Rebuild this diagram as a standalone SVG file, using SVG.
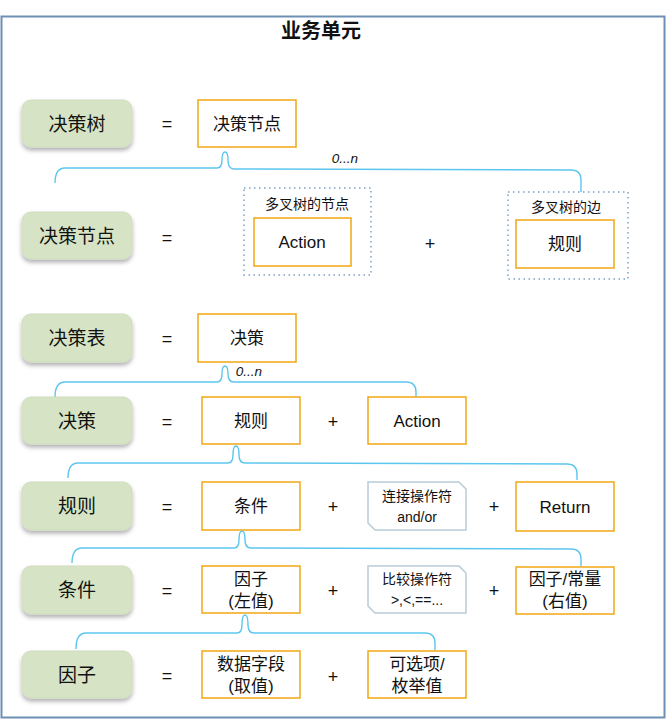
<svg xmlns="http://www.w3.org/2000/svg" width="667" height="720" viewBox="0 0 667 720">
<style>
text{font-family:"Liberation Sans","Noto Sans CJK SC",sans-serif;fill:#111;text-anchor:middle;dominant-baseline:central}
.g{fill:#d6e4c5;stroke:#cfdcc0;stroke-width:1}
.gt{font-size:19px}
.o{fill:#fff;stroke:#f2a714;stroke-width:1.5}
.ot{font-size:17px}
.op{font-size:18px}
.d{fill:none;stroke:#7d9fc2;stroke-width:1.5;stroke-dasharray:1.5 3.5}
.dt{font-size:14px}
.c{fill:#fff;stroke:#b8cbd8;stroke-width:1.5}
.ct{font-size:14px}
.br{fill:none;stroke:#5cc6ef;stroke-width:1.4}
.n{font-size:13.5px;font-style:italic}
</style>
<defs>
<filter id="sh" x="-20%" y="-20%" width="140%" height="150%">
<feDropShadow dx="0" dy="3" stdDeviation="2" flood-color="#000" flood-opacity="0.3"/>
</filter>
</defs>
<rect x="1.5" y="16.5" width="663" height="701" fill="#fff" stroke="#6d8fb3" stroke-width="2"/>
<text x="321" y="31" style="font-size:20px;font-weight:bold">业务单元</text>

<g id="connectors">
<path class="br" d="M55,183 Q55,168 65,168 L217,168 Q222,168 222,160 Q222,152 225,152 Q228,152 228,160 Q228,169 234,169 L571,170 Q581,170 581,180 L581,192"/>
<text class="n" x="345" y="158">0...n</text>
<path class="br" d="M55,397 Q55,382 65,382 L217,382 Q222,382 222,374 Q222,366 225,366 Q228,366 228,374 Q228,382 234,382 L406,382 Q416,382 416,392 L416,397"/>
<text class="n" x="249" y="371">0...n</text>
<path class="br" d="M68,478 Q68,463 78,463 L228,463 Q233,463 233,455 Q233,446 236,446 Q239,446 239,455 Q239,463 245,463 L567,464 Q577,464 577,474 L577,480"/>
<path class="br" d="M72,563 Q72,548 82,548 L234,548 Q239,548 239,540 Q239,531 242,531 Q245,531 245,540 Q245,548 251,548 L571,549 Q581,549 581,559 L581,566"/>
<path class="br" d="M76,649 Q76,633 86,633 L237,633 Q242,633 242,625 Q242,615 245,615 Q248,615 248,625 Q248,633 254,633 L425,633 Q435,633 435,643 L435,650"/>
</g>

<g id="n-jcs">
<rect class="g" x="22" y="100" width="110" height="47" rx="9" filter="url(#sh)"/>
<text class="gt" x="77" y="124">决策树</text>
</g>
<text class="op" x="167" y="124">=</text>
<g id="n-jcs-node">
<rect class="o" x="198" y="100" width="98" height="47"/>
<text class="ot" x="247" y="124">决策节点</text>
</g>

<g id="n-jcjd">
<rect class="g" x="22" y="212" width="110" height="47" rx="9" filter="url(#sh)"/>
<text class="gt" x="77" y="236">决策节点</text>
</g>
<text class="op" x="167" y="238">=</text>
<g id="n-tree-node">
<rect class="d" x="244" y="188" width="127" height="87"/>
<text class="dt" x="307" y="204">多叉树的节点</text>
<rect class="o" x="254" y="218" width="97" height="48"/>
<text class="ot" x="302" y="242">Action</text>
</g>
<text class="op" x="430" y="244">+</text>
<g id="n-tree-edge">
<rect class="d" x="508" y="192" width="120" height="87"/>
<text class="dt" x="566" y="207">多叉树的边</text>
<rect class="o" x="516" y="220" width="98" height="48"/>
<text class="ot" x="565" y="244">规则</text>
</g>

<g id="n-jcb">
<rect class="g" x="22" y="314" width="110" height="48" rx="9" filter="url(#sh)"/>
<text class="gt" x="77" y="338">决策表</text>
</g>
<text class="op" x="167" y="339">=</text>
<g id="n-jcb-jc">
<rect class="o" x="198" y="314" width="98" height="48"/>
<text class="ot" x="247" y="338">决策</text>
</g>

<g id="n-jc">
<rect class="g" x="22" y="397" width="110" height="47" rx="9" filter="url(#sh)"/>
<text class="gt" x="77" y="421">决策</text>
</g>
<text class="op" x="167" y="422">=</text>
<g id="n-jc-gz">
<rect class="o" x="202" y="397" width="98" height="47"/>
<text class="ot" x="251" y="421">规则</text>
</g>
<text class="op" x="333" y="422">+</text>
<g id="n-jc-action">
<rect class="o" x="368" y="397" width="98" height="47"/>
<text class="ot" x="417" y="421">Action</text>
</g>

<g id="n-gz">
<rect class="g" x="22" y="482" width="110" height="48" rx="9" filter="url(#sh)"/>
<text class="gt" x="77" y="506">规则</text>
</g>
<text class="op" x="167" y="507">=</text>
<g id="n-gz-tj">
<rect class="o" x="202" y="482" width="98" height="48"/>
<text class="ot" x="251" y="506">条件</text>
</g>
<text class="op" x="333" y="507">+</text>
<g id="n-gz-conn">
<path class="c" d="M368,482 L459,482 L466,489 L466,530 L375,530 L368,523 Z"/>
<text class="ct" x="417" y="496">连接操作符</text>
<text class="ct" x="417" y="517">and/or</text>
</g>
<text class="op" x="494" y="507">+</text>
<g id="n-gz-return">
<rect class="o" x="516" y="482" width="98" height="49"/>
<text class="ot" x="565" y="507">Return</text>
</g>

<g id="n-tj">
<rect class="g" x="22" y="566" width="110" height="48" rx="9" filter="url(#sh)"/>
<text class="gt" x="77" y="590">条件</text>
</g>
<text class="op" x="167" y="591">=</text>
<g id="n-tj-left">
<rect class="o" x="202" y="566" width="98" height="47"/>
<text class="ot" x="251" y="579">因子</text>
<text class="ot" x="251" y="601">(左值)</text>
</g>
<text class="op" x="333" y="591">+</text>
<g id="n-tj-cmp">
<path class="c" d="M368,566 L459,566 L466,573 L466,613 L375,613 L368,606 Z"/>
<text class="ct" x="417" y="579">比较操作符</text>
<text class="ct" x="417" y="600">&gt;,&lt;,==...</text>
</g>
<text class="op" x="494" y="591">+</text>
<g id="n-tj-right">
<rect class="o" x="516" y="567" width="98" height="47"/>
<text class="ot" x="565" y="579">因子/常量</text>
<text class="ot" x="565" y="601">(右值)</text>
</g>

<g id="n-yz">
<rect class="g" x="22" y="651" width="110" height="47" rx="9" filter="url(#sh)"/>
<text class="gt" x="77" y="675">因子</text>
</g>
<text class="op" x="167" y="676">=</text>
<g id="n-yz-field">
<rect class="o" x="202" y="651" width="98" height="47"/>
<text class="ot" x="251" y="664">数据字段</text>
<text class="ot" x="251" y="686">(取值)</text>
</g>
<text class="op" x="333" y="677">+</text>
<g id="n-yz-enum">
<rect class="o" x="368" y="651" width="98" height="47"/>
<text class="ot" x="417" y="664">可选项/</text>
<text class="ot" x="417" y="686">枚举值</text>
</g>
</svg>
